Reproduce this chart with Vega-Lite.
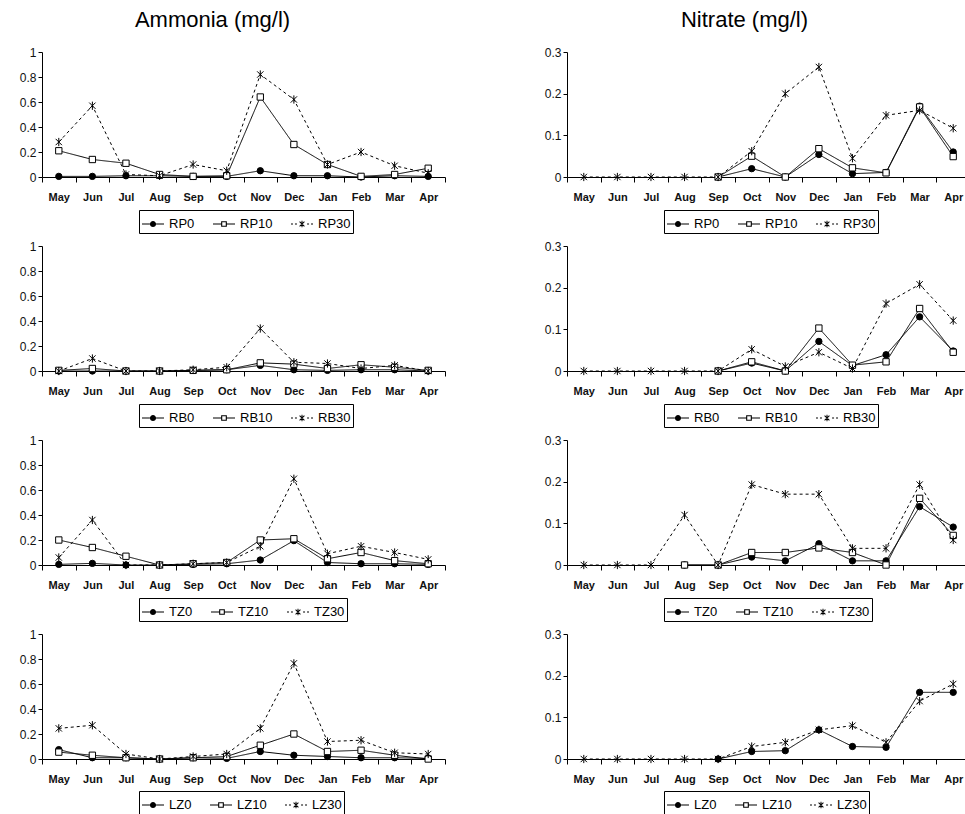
{
  "$schema": "https://vega.github.io/schema/vega-lite/v6.json",
  "background": "white",
  "padding": {"left": 19, "top": 9, "right": 0, "bottom": 0},
  "bounds": "flush",
  "columns": 2,
  "spacing": {"row": 69, "column": 122},
  "data": {"values": [
    {"p":"A-RP","m":"May","s0":0.005,"s10":0.21,"s30":0.28},
    {"p":"A-RP","m":"Jun","s0":0.005,"s10":0.14,"s30":0.57},
    {"p":"A-RP","m":"Jul","s0":0.01,"s10":0.11,"s30":0.02},
    {"p":"A-RP","m":"Aug","s0":0.01,"s10":0.02,"s30":0.01},
    {"p":"A-RP","m":"Sep","s0":0.005,"s10":0.005,"s30":0.10},
    {"p":"A-RP","m":"Oct","s0":0.005,"s10":0.01,"s30":0.05},
    {"p":"A-RP","m":"Nov","s0":0.05,"s10":0.64,"s30":0.82},
    {"p":"A-RP","m":"Dec","s0":0.01,"s10":0.26,"s30":0.62},
    {"p":"A-RP","m":"Jan","s0":0.01,"s10":0.10,"s30":0.10},
    {"p":"A-RP","m":"Feb","s0":0.0,"s10":0.005,"s30":0.20},
    {"p":"A-RP","m":"Mar","s0":0.01,"s10":0.02,"s30":0.09},
    {"p":"A-RP","m":"Apr","s0":0.005,"s10":0.07,"s30":0.03},

    {"p":"N-RP","m":"May","s0":null,"s10":null,"s30":0},
    {"p":"N-RP","m":"Jun","s0":null,"s10":null,"s30":0},
    {"p":"N-RP","m":"Jul","s0":null,"s10":null,"s30":0},
    {"p":"N-RP","m":"Aug","s0":null,"s10":null,"s30":0},
    {"p":"N-RP","m":"Sep","s0":0,"s10":0,"s30":0},
    {"p":"N-RP","m":"Oct","s0":0.02,"s10":0.05,"s30":0.062},
    {"p":"N-RP","m":"Nov","s0":0,"s10":0,"s30":0.20},
    {"p":"N-RP","m":"Dec","s0":0.054,"s10":0.068,"s30":0.264},
    {"p":"N-RP","m":"Jan","s0":0.008,"s10":0.022,"s30":0.045},
    {"p":"N-RP","m":"Feb","s0":0.011,"s10":0.010,"s30":0.148},
    {"p":"N-RP","m":"Mar","s0":0.17,"s10":0.168,"s30":0.16},
    {"p":"N-RP","m":"Apr","s0":0.06,"s10":0.049,"s30":0.117},

    {"p":"A-RB","m":"May","s0":0.0,"s10":0.005,"s30":0.0},
    {"p":"A-RB","m":"Jun","s0":0.0,"s10":0.02,"s30":0.10},
    {"p":"A-RB","m":"Jul","s0":0.0,"s10":0.0,"s30":0.0},
    {"p":"A-RB","m":"Aug","s0":0.0,"s10":0.0,"s30":0.0},
    {"p":"A-RB","m":"Sep","s0":0.005,"s10":0.005,"s30":0.01},
    {"p":"A-RB","m":"Oct","s0":0.01,"s10":0.01,"s30":0.03},
    {"p":"A-RB","m":"Nov","s0":0.045,"s10":0.065,"s30":0.34},
    {"p":"A-RB","m":"Dec","s0":0.01,"s10":0.055,"s30":0.07},
    {"p":"A-RB","m":"Jan","s0":0.005,"s10":0.02,"s30":0.06},
    {"p":"A-RB","m":"Feb","s0":0.01,"s10":0.05,"s30":0.02},
    {"p":"A-RB","m":"Mar","s0":0.01,"s10":0.03,"s30":0.045},
    {"p":"A-RB","m":"Apr","s0":0.0,"s10":0.005,"s30":0.0},

    {"p":"N-RB","m":"May","s0":null,"s10":null,"s30":0},
    {"p":"N-RB","m":"Jun","s0":null,"s10":null,"s30":0},
    {"p":"N-RB","m":"Jul","s0":null,"s10":null,"s30":0},
    {"p":"N-RB","m":"Aug","s0":null,"s10":null,"s30":0},
    {"p":"N-RB","m":"Sep","s0":0,"s10":0,"s30":0},
    {"p":"N-RB","m":"Oct","s0":0.019,"s10":0.022,"s30":0.052},
    {"p":"N-RB","m":"Nov","s0":0,"s10":0,"s30":0.011},
    {"p":"N-RB","m":"Dec","s0":0.071,"s10":0.103,"s30":0.045},
    {"p":"N-RB","m":"Jan","s0":0.013,"s10":0.014,"s30":0.006},
    {"p":"N-RB","m":"Feb","s0":0.039,"s10":0.022,"s30":0.162},
    {"p":"N-RB","m":"Mar","s0":0.130,"s10":0.150,"s30":0.208},
    {"p":"N-RB","m":"Apr","s0":0.048,"s10":0.045,"s30":0.121},

    {"p":"A-TZ","m":"May","s0":0.005,"s10":0.20,"s30":0.06},
    {"p":"A-TZ","m":"Jun","s0":0.013,"s10":0.14,"s30":0.36},
    {"p":"A-TZ","m":"Jul","s0":0.0,"s10":0.07,"s30":0.0},
    {"p":"A-TZ","m":"Aug","s0":0.0,"s10":0.0,"s30":0.0},
    {"p":"A-TZ","m":"Sep","s0":0.005,"s10":0.01,"s30":0.01},
    {"p":"A-TZ","m":"Oct","s0":0.01,"s10":0.02,"s30":0.02},
    {"p":"A-TZ","m":"Nov","s0":0.04,"s10":0.20,"s30":0.15},
    {"p":"A-TZ","m":"Dec","s0":0.195,"s10":0.21,"s30":0.69},
    {"p":"A-TZ","m":"Jan","s0":0.02,"s10":0.05,"s30":0.09},
    {"p":"A-TZ","m":"Feb","s0":0.01,"s10":0.10,"s30":0.15},
    {"p":"A-TZ","m":"Mar","s0":0.01,"s10":0.035,"s30":0.10},
    {"p":"A-TZ","m":"Apr","s0":0.005,"s10":0.01,"s30":0.045},

    {"p":"N-TZ","m":"May","s0":null,"s10":null,"s30":0},
    {"p":"N-TZ","m":"Jun","s0":null,"s10":null,"s30":0},
    {"p":"N-TZ","m":"Jul","s0":null,"s10":null,"s30":0},
    {"p":"N-TZ","m":"Aug","s0":0,"s10":0,"s30":0.12},
    {"p":"N-TZ","m":"Sep","s0":0,"s10":0,"s30":0},
    {"p":"N-TZ","m":"Oct","s0":0.019,"s10":0.03,"s30":0.193},
    {"p":"N-TZ","m":"Nov","s0":0.01,"s10":0.03,"s30":0.17},
    {"p":"N-TZ","m":"Dec","s0":0.051,"s10":0.041,"s30":0.17},
    {"p":"N-TZ","m":"Jan","s0":0.01,"s10":0.03,"s30":0.04},
    {"p":"N-TZ","m":"Feb","s0":0.01,"s10":0.0,"s30":0.04},
    {"p":"N-TZ","m":"Mar","s0":0.14,"s10":0.16,"s30":0.193},
    {"p":"N-TZ","m":"Apr","s0":0.091,"s10":0.071,"s30":0.06},

    {"p":"A-LZ","m":"May","s0":0.075,"s10":0.055,"s30":0.245},
    {"p":"A-LZ","m":"Jun","s0":0.01,"s10":0.03,"s30":0.27},
    {"p":"A-LZ","m":"Jul","s0":0.01,"s10":0.01,"s30":0.04},
    {"p":"A-LZ","m":"Aug","s0":0.0,"s10":0.0,"s30":0.0},
    {"p":"A-LZ","m":"Sep","s0":0.01,"s10":0.01,"s30":0.02},
    {"p":"A-LZ","m":"Oct","s0":0.005,"s10":0.02,"s30":0.04},
    {"p":"A-LZ","m":"Nov","s0":0.06,"s10":0.11,"s30":0.245},
    {"p":"A-LZ","m":"Dec","s0":0.03,"s10":0.20,"s30":0.765},
    {"p":"A-LZ","m":"Jan","s0":0.02,"s10":0.06,"s30":0.14},
    {"p":"A-LZ","m":"Feb","s0":0.01,"s10":0.07,"s30":0.15},
    {"p":"A-LZ","m":"Mar","s0":0.01,"s10":0.03,"s30":0.05},
    {"p":"A-LZ","m":"Apr","s0":0.005,"s10":0.0,"s30":0.04},

    {"p":"N-LZ","m":"May","s0":null,"s10":null,"s30":0},
    {"p":"N-LZ","m":"Jun","s0":null,"s10":null,"s30":0},
    {"p":"N-LZ","m":"Jul","s0":null,"s10":null,"s30":0},
    {"p":"N-LZ","m":"Aug","s0":null,"s10":null,"s30":0},
    {"p":"N-LZ","m":"Sep","s0":0,"s10":null,"s30":0},
    {"p":"N-LZ","m":"Oct","s0":0.018,"s10":null,"s30":0.03},
    {"p":"N-LZ","m":"Nov","s0":0.02,"s10":null,"s30":0.04},
    {"p":"N-LZ","m":"Dec","s0":0.07,"s10":null,"s30":0.07},
    {"p":"N-LZ","m":"Jan","s0":0.03,"s10":null,"s30":0.08},
    {"p":"N-LZ","m":"Feb","s0":0.028,"s10":null,"s30":0.04},
    {"p":"N-LZ","m":"Mar","s0":0.16,"s10":null,"s30":0.139},
    {"p":"N-LZ","m":"Apr","s0":0.16,"s10":null,"s30":0.18}
  ]},
  "concat": [
    {
      "title": {"text": "Ammonia (mg/l)", "fontSize": 22, "font": "Liberation Sans", "fontWeight": "normal", "color": "black", "anchor": "middle", "frame": "group", "dx": -31, "offset": 14},
      "width": 403, "height": 125,
      "transform": [{"filter": "datum.p === 'A-RP'"}, {"fold": ["s0", "s10", "s30"], "as": ["series", "value"]}],
      "encoding": {
        "x": {"field": "m", "type": "ordinal", "scale": {"type": "band", "domain": ["May","Jun","Jul","Aug","Sep","Oct","Nov","Dec","Jan","Feb","Mar","Apr"], "paddingInner": 0, "paddingOuter": 0}, "axis": {"title": null, "tickBand": "extent", "labelAngle": 0, "labelFontSize": 11, "labelFontWeight": "bold", "labelPadding": 9, "tickSize": 5}},
        "y": {"field": "value", "type": "quantitative", "scale": {"domain": [0, 1], "nice": false}, "axis": {"title": null, "values": [0, 0.2, 0.4, 0.6, 0.8, 1], "format": "~g", "tickSize": 4, "labelPadding": 2, "labelFontSize": 12}}
      },
      "layer": [
        {"mark": {"type": "line", "stroke": "black", "strokeWidth": 1}, "encoding": {"strokeDash": {"field": "series", "type": "nominal", "scale": {"domain": ["s0","s10","s30"], "range": [[1,0],[1,0],[3,3]]}, "legend": null}}},
        {"mark": {"type": "point", "stroke": "black", "strokeWidth": 1, "opacity": 1, "size": 40}, "encoding": {"shape": {"field": "series", "type": "nominal", "scale": {"domain": ["s0","s10","s30"], "range": ["circle", "square", "M-1,-1L1,1M-1,1L1,-1M0,-1.3V1.3"]}, "legend": null}, "fill": {"field": "series", "type": "nominal", "scale": {"domain": ["s0","s10","s30"], "range": ["black", "white", "black"]}, "legend": null}}},
        {"transform": [{"filter": "false"}], "mark": {"type": "point", "filled": true, "color": "black", "opacity": 1}, "encoding": {"shape": {"field": "series", "type": "nominal", "scale": {"domain": ["s0","s10","s30"], "range": ["M-1,-0.045H-0.28V0.045H-1ZM0.28,-0.045H1V0.045H0.28ZM-0.28,0A0.28,0.28,0,1,0,0.28,0A0.28,0.28,0,1,0,-0.28,0Z", "M-1,-0.045H-0.26V0.045H-1ZM0.26,-0.045H1V0.045H0.26ZM-0.26,-0.26H0.26V0.26H-0.26ZM-0.16,-0.16V0.16H0.16V-0.16Z", "M-1,-0.045H-0.82V0.045H-1ZM-0.64,-0.045H-0.46V0.045H-0.64ZM0.46,-0.045H0.64V0.045H0.46ZM0.82,-0.045H1V0.045H0.82ZM-0.188,-0.252L0.252,0.188L0.188,0.252L-0.252,-0.188ZM-0.252,0.188L0.188,-0.252L0.252,-0.188L-0.188,0.252ZM-0.045,-0.3H0.045V0.3H-0.045Z"]}, "legend": {"orient": "none", "legendX": 97, "legendY": 158, "direction": "horizontal", "title": null, "labelExpr": "'RP' + slice(datum.label, 1)"}}}}
      ],
      "resolve": {"scale": {"shape": "independent"}, "legend": {"shape": "independent"}}
    },
    {
      "title": {"text": "Nitrate (mg/l)", "fontSize": 22, "font": "Liberation Sans", "fontWeight": "normal", "color": "black", "anchor": "middle", "frame": "group", "dx": -24, "offset": 14},
      "width": 403, "height": 125,
      "transform": [{"filter": "datum.p === 'N-RP'"}, {"fold": ["s0", "s10", "s30"], "as": ["series", "value"]}],
      "encoding": {
        "x": {"field": "m", "type": "ordinal", "scale": {"type": "band", "domain": ["May","Jun","Jul","Aug","Sep","Oct","Nov","Dec","Jan","Feb","Mar","Apr"], "paddingInner": 0, "paddingOuter": 0}, "axis": {"title": null, "tickBand": "extent", "labelAngle": 0, "labelFontSize": 11, "labelFontWeight": "bold", "labelPadding": 9, "tickSize": 5}},
        "y": {"field": "value", "type": "quantitative", "scale": {"domain": [0, 0.3], "nice": false}, "axis": {"title": null, "values": [0, 0.1, 0.2, 0.3], "format": "~g", "tickSize": 4, "labelPadding": 2, "labelFontSize": 12}}
      },
      "layer": [
        {"mark": {"type": "line", "stroke": "black", "strokeWidth": 1}, "encoding": {"strokeDash": {"field": "series", "type": "nominal", "scale": {"domain": ["s0","s10","s30"], "range": [[1,0],[1,0],[3,3]]}, "legend": null}}},
        {"mark": {"type": "point", "stroke": "black", "strokeWidth": 1, "opacity": 1, "size": 40}, "encoding": {"shape": {"field": "series", "type": "nominal", "scale": {"domain": ["s0","s10","s30"], "range": ["circle", "square", "M-1,-1L1,1M-1,1L1,-1M0,-1.3V1.3"]}, "legend": null}, "fill": {"field": "series", "type": "nominal", "scale": {"domain": ["s0","s10","s30"], "range": ["black", "white", "black"]}, "legend": null}}},
        {"transform": [{"filter": "false"}], "mark": {"type": "point", "filled": true, "color": "black", "opacity": 1}, "encoding": {"shape": {"field": "series", "type": "nominal", "scale": {"domain": ["s0","s10","s30"], "range": ["M-1,-0.045H-0.28V0.045H-1ZM0.28,-0.045H1V0.045H0.28ZM-0.28,0A0.28,0.28,0,1,0,0.28,0A0.28,0.28,0,1,0,-0.28,0Z", "M-1,-0.045H-0.26V0.045H-1ZM0.26,-0.045H1V0.045H0.26ZM-0.26,-0.26H0.26V0.26H-0.26ZM-0.16,-0.16V0.16H0.16V-0.16Z", "M-1,-0.045H-0.82V0.045H-1ZM-0.64,-0.045H-0.46V0.045H-0.64ZM0.46,-0.045H0.64V0.045H0.46ZM0.82,-0.045H1V0.045H0.82ZM-0.188,-0.252L0.252,0.188L0.188,0.252L-0.252,-0.188ZM-0.252,0.188L0.188,-0.252L0.252,-0.188L-0.188,0.252ZM-0.045,-0.3H0.045V0.3H-0.045Z"]}, "legend": {"orient": "none", "legendX": 97, "legendY": 158, "direction": "horizontal", "title": null, "labelExpr": "'RP' + slice(datum.label, 1)"}}}}
      ],
      "resolve": {"scale": {"shape": "independent"}, "legend": {"shape": "independent"}}
    },
    {
      "width": 403, "height": 125,
      "transform": [{"filter": "datum.p === 'A-RB'"}, {"fold": ["s0", "s10", "s30"], "as": ["series", "value"]}],
      "encoding": {
        "x": {"field": "m", "type": "ordinal", "scale": {"type": "band", "domain": ["May","Jun","Jul","Aug","Sep","Oct","Nov","Dec","Jan","Feb","Mar","Apr"], "paddingInner": 0, "paddingOuter": 0}, "axis": {"title": null, "tickBand": "extent", "labelAngle": 0, "labelFontSize": 11, "labelFontWeight": "bold", "labelPadding": 9, "tickSize": 5}},
        "y": {"field": "value", "type": "quantitative", "scale": {"domain": [0, 1], "nice": false}, "axis": {"title": null, "values": [0, 0.2, 0.4, 0.6, 0.8, 1], "format": "~g", "tickSize": 4, "labelPadding": 2, "labelFontSize": 12}}
      },
      "layer": [
        {"mark": {"type": "line", "stroke": "black", "strokeWidth": 1}, "encoding": {"strokeDash": {"field": "series", "type": "nominal", "scale": {"domain": ["s0","s10","s30"], "range": [[1,0],[1,0],[3,3]]}, "legend": null}}},
        {"mark": {"type": "point", "stroke": "black", "strokeWidth": 1, "opacity": 1, "size": 40}, "encoding": {"shape": {"field": "series", "type": "nominal", "scale": {"domain": ["s0","s10","s30"], "range": ["circle", "square", "M-1,-1L1,1M-1,1L1,-1M0,-1.3V1.3"]}, "legend": null}, "fill": {"field": "series", "type": "nominal", "scale": {"domain": ["s0","s10","s30"], "range": ["black", "white", "black"]}, "legend": null}}},
        {"transform": [{"filter": "false"}], "mark": {"type": "point", "filled": true, "color": "black", "opacity": 1}, "encoding": {"shape": {"field": "series", "type": "nominal", "scale": {"domain": ["s0","s10","s30"], "range": ["M-1,-0.045H-0.28V0.045H-1ZM0.28,-0.045H1V0.045H0.28ZM-0.28,0A0.28,0.28,0,1,0,0.28,0A0.28,0.28,0,1,0,-0.28,0Z", "M-1,-0.045H-0.26V0.045H-1ZM0.26,-0.045H1V0.045H0.26ZM-0.26,-0.26H0.26V0.26H-0.26ZM-0.16,-0.16V0.16H0.16V-0.16Z", "M-1,-0.045H-0.82V0.045H-1ZM-0.64,-0.045H-0.46V0.045H-0.64ZM0.46,-0.045H0.64V0.045H0.46ZM0.82,-0.045H1V0.045H0.82ZM-0.188,-0.252L0.252,0.188L0.188,0.252L-0.252,-0.188ZM-0.252,0.188L0.188,-0.252L0.252,-0.188L-0.188,0.252ZM-0.045,-0.3H0.045V0.3H-0.045Z"]}, "legend": {"orient": "none", "legendX": 97, "legendY": 158, "direction": "horizontal", "title": null, "labelExpr": "'RB' + slice(datum.label, 1)"}}}}
      ],
      "resolve": {"scale": {"shape": "independent"}, "legend": {"shape": "independent"}}
    },
    {
      "width": 403, "height": 125,
      "transform": [{"filter": "datum.p === 'N-RB'"}, {"fold": ["s0", "s10", "s30"], "as": ["series", "value"]}],
      "encoding": {
        "x": {"field": "m", "type": "ordinal", "scale": {"type": "band", "domain": ["May","Jun","Jul","Aug","Sep","Oct","Nov","Dec","Jan","Feb","Mar","Apr"], "paddingInner": 0, "paddingOuter": 0}, "axis": {"title": null, "tickBand": "extent", "labelAngle": 0, "labelFontSize": 11, "labelFontWeight": "bold", "labelPadding": 9, "tickSize": 5}},
        "y": {"field": "value", "type": "quantitative", "scale": {"domain": [0, 0.3], "nice": false}, "axis": {"title": null, "values": [0, 0.1, 0.2, 0.3], "format": "~g", "tickSize": 4, "labelPadding": 2, "labelFontSize": 12}}
      },
      "layer": [
        {"mark": {"type": "line", "stroke": "black", "strokeWidth": 1}, "encoding": {"strokeDash": {"field": "series", "type": "nominal", "scale": {"domain": ["s0","s10","s30"], "range": [[1,0],[1,0],[3,3]]}, "legend": null}}},
        {"mark": {"type": "point", "stroke": "black", "strokeWidth": 1, "opacity": 1, "size": 40}, "encoding": {"shape": {"field": "series", "type": "nominal", "scale": {"domain": ["s0","s10","s30"], "range": ["circle", "square", "M-1,-1L1,1M-1,1L1,-1M0,-1.3V1.3"]}, "legend": null}, "fill": {"field": "series", "type": "nominal", "scale": {"domain": ["s0","s10","s30"], "range": ["black", "white", "black"]}, "legend": null}}},
        {"transform": [{"filter": "false"}], "mark": {"type": "point", "filled": true, "color": "black", "opacity": 1}, "encoding": {"shape": {"field": "series", "type": "nominal", "scale": {"domain": ["s0","s10","s30"], "range": ["M-1,-0.045H-0.28V0.045H-1ZM0.28,-0.045H1V0.045H0.28ZM-0.28,0A0.28,0.28,0,1,0,0.28,0A0.28,0.28,0,1,0,-0.28,0Z", "M-1,-0.045H-0.26V0.045H-1ZM0.26,-0.045H1V0.045H0.26ZM-0.26,-0.26H0.26V0.26H-0.26ZM-0.16,-0.16V0.16H0.16V-0.16Z", "M-1,-0.045H-0.82V0.045H-1ZM-0.64,-0.045H-0.46V0.045H-0.64ZM0.46,-0.045H0.64V0.045H0.46ZM0.82,-0.045H1V0.045H0.82ZM-0.188,-0.252L0.252,0.188L0.188,0.252L-0.252,-0.188ZM-0.252,0.188L0.188,-0.252L0.252,-0.188L-0.188,0.252ZM-0.045,-0.3H0.045V0.3H-0.045Z"]}, "legend": {"orient": "none", "legendX": 97, "legendY": 158, "direction": "horizontal", "title": null, "labelExpr": "'RB' + slice(datum.label, 1)"}}}}
      ],
      "resolve": {"scale": {"shape": "independent"}, "legend": {"shape": "independent"}}
    },
    {
      "width": 403, "height": 125,
      "transform": [{"filter": "datum.p === 'A-TZ'"}, {"fold": ["s0", "s10", "s30"], "as": ["series", "value"]}],
      "encoding": {
        "x": {"field": "m", "type": "ordinal", "scale": {"type": "band", "domain": ["May","Jun","Jul","Aug","Sep","Oct","Nov","Dec","Jan","Feb","Mar","Apr"], "paddingInner": 0, "paddingOuter": 0}, "axis": {"title": null, "tickBand": "extent", "labelAngle": 0, "labelFontSize": 11, "labelFontWeight": "bold", "labelPadding": 9, "tickSize": 5}},
        "y": {"field": "value", "type": "quantitative", "scale": {"domain": [0, 1], "nice": false}, "axis": {"title": null, "values": [0, 0.2, 0.4, 0.6, 0.8, 1], "format": "~g", "tickSize": 4, "labelPadding": 2, "labelFontSize": 12}}
      },
      "layer": [
        {"mark": {"type": "line", "stroke": "black", "strokeWidth": 1}, "encoding": {"strokeDash": {"field": "series", "type": "nominal", "scale": {"domain": ["s0","s10","s30"], "range": [[1,0],[1,0],[3,3]]}, "legend": null}}},
        {"mark": {"type": "point", "stroke": "black", "strokeWidth": 1, "opacity": 1, "size": 40}, "encoding": {"shape": {"field": "series", "type": "nominal", "scale": {"domain": ["s0","s10","s30"], "range": ["circle", "square", "M-1,-1L1,1M-1,1L1,-1M0,-1.3V1.3"]}, "legend": null}, "fill": {"field": "series", "type": "nominal", "scale": {"domain": ["s0","s10","s30"], "range": ["black", "white", "black"]}, "legend": null}}},
        {"transform": [{"filter": "false"}], "mark": {"type": "point", "filled": true, "color": "black", "opacity": 1}, "encoding": {"shape": {"field": "series", "type": "nominal", "scale": {"domain": ["s0","s10","s30"], "range": ["M-1,-0.045H-0.28V0.045H-1ZM0.28,-0.045H1V0.045H0.28ZM-0.28,0A0.28,0.28,0,1,0,0.28,0A0.28,0.28,0,1,0,-0.28,0Z", "M-1,-0.045H-0.26V0.045H-1ZM0.26,-0.045H1V0.045H0.26ZM-0.26,-0.26H0.26V0.26H-0.26ZM-0.16,-0.16V0.16H0.16V-0.16Z", "M-1,-0.045H-0.82V0.045H-1ZM-0.64,-0.045H-0.46V0.045H-0.64ZM0.46,-0.045H0.64V0.045H0.46ZM0.82,-0.045H1V0.045H0.82ZM-0.188,-0.252L0.252,0.188L0.188,0.252L-0.252,-0.188ZM-0.252,0.188L0.188,-0.252L0.252,-0.188L-0.188,0.252ZM-0.045,-0.3H0.045V0.3H-0.045Z"]}, "legend": {"orient": "none", "legendX": 97, "legendY": 158, "direction": "horizontal", "title": null, "labelExpr": "'TZ' + slice(datum.label, 1)"}}}}
      ],
      "resolve": {"scale": {"shape": "independent"}, "legend": {"shape": "independent"}}
    },
    {
      "width": 403, "height": 125,
      "transform": [{"filter": "datum.p === 'N-TZ'"}, {"fold": ["s0", "s10", "s30"], "as": ["series", "value"]}],
      "encoding": {
        "x": {"field": "m", "type": "ordinal", "scale": {"type": "band", "domain": ["May","Jun","Jul","Aug","Sep","Oct","Nov","Dec","Jan","Feb","Mar","Apr"], "paddingInner": 0, "paddingOuter": 0}, "axis": {"title": null, "tickBand": "extent", "labelAngle": 0, "labelFontSize": 11, "labelFontWeight": "bold", "labelPadding": 9, "tickSize": 5}},
        "y": {"field": "value", "type": "quantitative", "scale": {"domain": [0, 0.3], "nice": false}, "axis": {"title": null, "values": [0, 0.1, 0.2, 0.3], "format": "~g", "tickSize": 4, "labelPadding": 2, "labelFontSize": 12}}
      },
      "layer": [
        {"mark": {"type": "line", "stroke": "black", "strokeWidth": 1}, "encoding": {"strokeDash": {"field": "series", "type": "nominal", "scale": {"domain": ["s0","s10","s30"], "range": [[1,0],[1,0],[3,3]]}, "legend": null}}},
        {"mark": {"type": "point", "stroke": "black", "strokeWidth": 1, "opacity": 1, "size": 40}, "encoding": {"shape": {"field": "series", "type": "nominal", "scale": {"domain": ["s0","s10","s30"], "range": ["circle", "square", "M-1,-1L1,1M-1,1L1,-1M0,-1.3V1.3"]}, "legend": null}, "fill": {"field": "series", "type": "nominal", "scale": {"domain": ["s0","s10","s30"], "range": ["black", "white", "black"]}, "legend": null}}},
        {"transform": [{"filter": "false"}], "mark": {"type": "point", "filled": true, "color": "black", "opacity": 1}, "encoding": {"shape": {"field": "series", "type": "nominal", "scale": {"domain": ["s0","s10","s30"], "range": ["M-1,-0.045H-0.28V0.045H-1ZM0.28,-0.045H1V0.045H0.28ZM-0.28,0A0.28,0.28,0,1,0,0.28,0A0.28,0.28,0,1,0,-0.28,0Z", "M-1,-0.045H-0.26V0.045H-1ZM0.26,-0.045H1V0.045H0.26ZM-0.26,-0.26H0.26V0.26H-0.26ZM-0.16,-0.16V0.16H0.16V-0.16Z", "M-1,-0.045H-0.82V0.045H-1ZM-0.64,-0.045H-0.46V0.045H-0.64ZM0.46,-0.045H0.64V0.045H0.46ZM0.82,-0.045H1V0.045H0.82ZM-0.188,-0.252L0.252,0.188L0.188,0.252L-0.252,-0.188ZM-0.252,0.188L0.188,-0.252L0.252,-0.188L-0.188,0.252ZM-0.045,-0.3H0.045V0.3H-0.045Z"]}, "legend": {"orient": "none", "legendX": 97, "legendY": 158, "direction": "horizontal", "title": null, "labelExpr": "'TZ' + slice(datum.label, 1)"}}}}
      ],
      "resolve": {"scale": {"shape": "independent"}, "legend": {"shape": "independent"}}
    },
    {
      "width": 403, "height": 125,
      "transform": [{"filter": "datum.p === 'A-LZ'"}, {"fold": ["s0", "s10", "s30"], "as": ["series", "value"]}],
      "encoding": {
        "x": {"field": "m", "type": "ordinal", "scale": {"type": "band", "domain": ["May","Jun","Jul","Aug","Sep","Oct","Nov","Dec","Jan","Feb","Mar","Apr"], "paddingInner": 0, "paddingOuter": 0}, "axis": {"title": null, "tickBand": "extent", "labelAngle": 0, "labelFontSize": 11, "labelFontWeight": "bold", "labelPadding": 9, "tickSize": 5}},
        "y": {"field": "value", "type": "quantitative", "scale": {"domain": [0, 1], "nice": false}, "axis": {"title": null, "values": [0, 0.2, 0.4, 0.6, 0.8, 1], "format": "~g", "tickSize": 4, "labelPadding": 2, "labelFontSize": 12}}
      },
      "layer": [
        {"mark": {"type": "line", "stroke": "black", "strokeWidth": 1}, "encoding": {"strokeDash": {"field": "series", "type": "nominal", "scale": {"domain": ["s0","s10","s30"], "range": [[1,0],[1,0],[3,3]]}, "legend": null}}},
        {"mark": {"type": "point", "stroke": "black", "strokeWidth": 1, "opacity": 1, "size": 40}, "encoding": {"shape": {"field": "series", "type": "nominal", "scale": {"domain": ["s0","s10","s30"], "range": ["circle", "square", "M-1,-1L1,1M-1,1L1,-1M0,-1.3V1.3"]}, "legend": null}, "fill": {"field": "series", "type": "nominal", "scale": {"domain": ["s0","s10","s30"], "range": ["black", "white", "black"]}, "legend": null}}},
        {"transform": [{"filter": "false"}], "mark": {"type": "point", "filled": true, "color": "black", "opacity": 1}, "encoding": {"shape": {"field": "series", "type": "nominal", "scale": {"domain": ["s0","s10","s30"], "range": ["M-1,-0.045H-0.28V0.045H-1ZM0.28,-0.045H1V0.045H0.28ZM-0.28,0A0.28,0.28,0,1,0,0.28,0A0.28,0.28,0,1,0,-0.28,0Z", "M-1,-0.045H-0.26V0.045H-1ZM0.26,-0.045H1V0.045H0.26ZM-0.26,-0.26H0.26V0.26H-0.26ZM-0.16,-0.16V0.16H0.16V-0.16Z", "M-1,-0.045H-0.82V0.045H-1ZM-0.64,-0.045H-0.46V0.045H-0.64ZM0.46,-0.045H0.64V0.045H0.46ZM0.82,-0.045H1V0.045H0.82ZM-0.188,-0.252L0.252,0.188L0.188,0.252L-0.252,-0.188ZM-0.252,0.188L0.188,-0.252L0.252,-0.188L-0.188,0.252ZM-0.045,-0.3H0.045V0.3H-0.045Z"]}, "legend": {"orient": "none", "legendX": 97, "legendY": 157, "direction": "horizontal", "title": null, "labelExpr": "'LZ' + slice(datum.label, 1)"}}}}
      ],
      "resolve": {"scale": {"shape": "independent"}, "legend": {"shape": "independent"}}
    },
    {
      "width": 403, "height": 125,
      "transform": [{"filter": "datum.p === 'N-LZ'"}, {"fold": ["s0", "s10", "s30"], "as": ["series", "value"]}],
      "encoding": {
        "x": {"field": "m", "type": "ordinal", "scale": {"type": "band", "domain": ["May","Jun","Jul","Aug","Sep","Oct","Nov","Dec","Jan","Feb","Mar","Apr"], "paddingInner": 0, "paddingOuter": 0}, "axis": {"title": null, "tickBand": "extent", "labelAngle": 0, "labelFontSize": 11, "labelFontWeight": "bold", "labelPadding": 9, "tickSize": 5}},
        "y": {"field": "value", "type": "quantitative", "scale": {"domain": [0, 0.3], "nice": false}, "axis": {"title": null, "values": [0, 0.1, 0.2, 0.3], "format": "~g", "tickSize": 4, "labelPadding": 2, "labelFontSize": 12}}
      },
      "layer": [
        {"mark": {"type": "line", "stroke": "black", "strokeWidth": 1}, "encoding": {"strokeDash": {"field": "series", "type": "nominal", "scale": {"domain": ["s0","s10","s30"], "range": [[1,0],[1,0],[3,3]]}, "legend": null}}},
        {"mark": {"type": "point", "stroke": "black", "strokeWidth": 1, "opacity": 1, "size": 40}, "encoding": {"shape": {"field": "series", "type": "nominal", "scale": {"domain": ["s0","s10","s30"], "range": ["circle", "square", "M-1,-1L1,1M-1,1L1,-1M0,-1.3V1.3"]}, "legend": null}, "fill": {"field": "series", "type": "nominal", "scale": {"domain": ["s0","s10","s30"], "range": ["black", "white", "black"]}, "legend": null}}},
        {"transform": [{"filter": "false"}], "mark": {"type": "point", "filled": true, "color": "black", "opacity": 1}, "encoding": {"shape": {"field": "series", "type": "nominal", "scale": {"domain": ["s0","s10","s30"], "range": ["M-1,-0.045H-0.28V0.045H-1ZM0.28,-0.045H1V0.045H0.28ZM-0.28,0A0.28,0.28,0,1,0,0.28,0A0.28,0.28,0,1,0,-0.28,0Z", "M-1,-0.045H-0.26V0.045H-1ZM0.26,-0.045H1V0.045H0.26ZM-0.26,-0.26H0.26V0.26H-0.26ZM-0.16,-0.16V0.16H0.16V-0.16Z", "M-1,-0.045H-0.82V0.045H-1ZM-0.64,-0.045H-0.46V0.045H-0.64ZM0.46,-0.045H0.64V0.045H0.46ZM0.82,-0.045H1V0.045H0.82ZM-0.188,-0.252L0.252,0.188L0.188,0.252L-0.252,-0.188ZM-0.252,0.188L0.188,-0.252L0.252,-0.188L-0.188,0.252ZM-0.045,-0.3H0.045V0.3H-0.045Z"]}, "legend": {"orient": "none", "legendX": 97, "legendY": 157, "direction": "horizontal", "title": null, "labelExpr": "'LZ' + slice(datum.label, 1)"}}}}
      ],
      "resolve": {"scale": {"shape": "independent"}, "legend": {"shape": "independent"}}
    }
  ],
  "config": {
    "view": {"stroke": null},
    "font": "Liberation Sans",
    "axis": {"grid": false, "domainColor": "black", "tickColor": "black", "labelColor": "#111", "labelFont": "Liberation Sans", "domainWidth": 1, "tickWidth": 1},
    "legend": {"strokeColor": "black", "fillColor": "white", "padding": 2, "symbolSize": 484, "labelFont": "Liberation Sans", "labelFontSize": 13, "labelColor": "black", "labelOffset": 4, "columnPadding": 15, "symbolOpacity": 1}
  }
}
